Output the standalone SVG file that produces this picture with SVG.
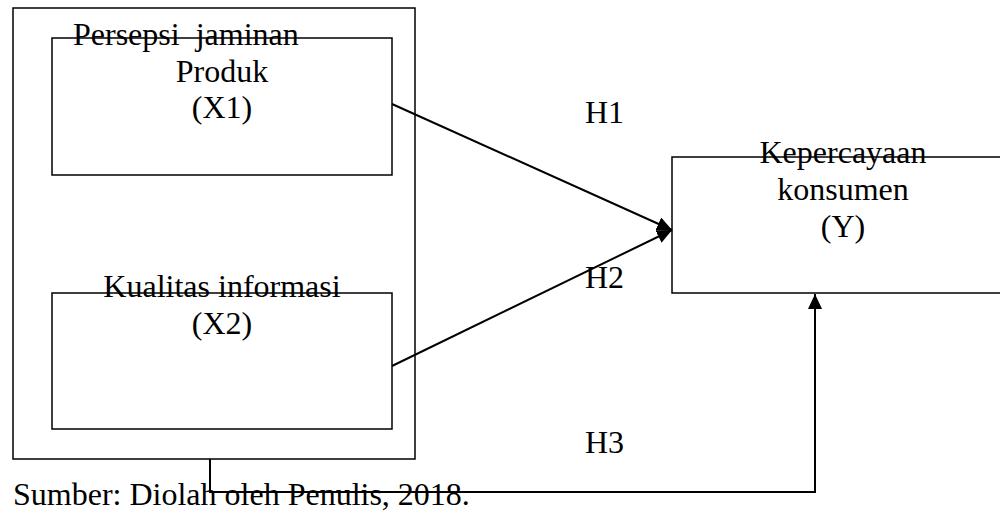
<svg xmlns="http://www.w3.org/2000/svg" width="1000" height="512" viewBox="0 0 1000 512">
<style>
.box{fill:none;stroke:#000;stroke-width:1.5}
.t{font-family:"Liberation Serif","Times New Roman",serif;font-size:32px;fill:#000}
.c{text-anchor:middle}
.conn{fill:none;stroke:#000;stroke-width:2}
</style>
<defs>
<marker id="ah" markerUnits="userSpaceOnUse" markerWidth="16" markerHeight="14" refX="15" refY="7" orient="auto">
<path d="M0,0 L15,7 L0,14 Z" fill="#000"/>
</marker>
</defs>
<rect width="1000" height="512" fill="#fff"/>
<g id="outer">
<rect class="box" x="13" y="8" width="402" height="451"/>
</g>
<g id="x1">
<rect class="box" x="52" y="38" width="340" height="137"/>
<text class="t" x="73" y="45" xml:space="preserve">Persepsi  jaminan</text>
<text class="t c" x="222" y="82">Produk</text>
<text class="t c" x="222" y="118">(X1)</text>
</g>
<g id="x2">
<rect class="box" x="52" y="293" width="340" height="136"/>
<text class="t c" x="222" y="297">Kualitas informasi</text>
<text class="t c" x="222" y="334">(X2)</text>
</g>
<g id="y">
<rect class="box" x="672" y="157" width="340" height="136"/>
<text class="t c" x="843" y="163">Kepercayaan</text>
<text class="t c" x="843" y="200">konsumen</text>
<text class="t c" x="843" y="237">(Y)</text>
</g>
<g id="connectors">
<line class="conn" x1="392" y1="104" x2="672" y2="230" marker-end="url(#ah)"/>
<line class="conn" x1="392" y1="366" x2="672" y2="230" marker-end="url(#ah)"/>
<polyline class="conn" points="210,459 210,492 815,492 815,294" marker-end="url(#ah)"/>
</g>
<g id="labels">
<text class="t" x="585" y="123">H1</text>
<text class="t" x="585" y="288">H2</text>
<text class="t" x="585" y="453">H3</text>
<text class="t" x="13" y="505">Sumber: Diolah oleh Penulis, 2018.</text>
</g>
</svg>
